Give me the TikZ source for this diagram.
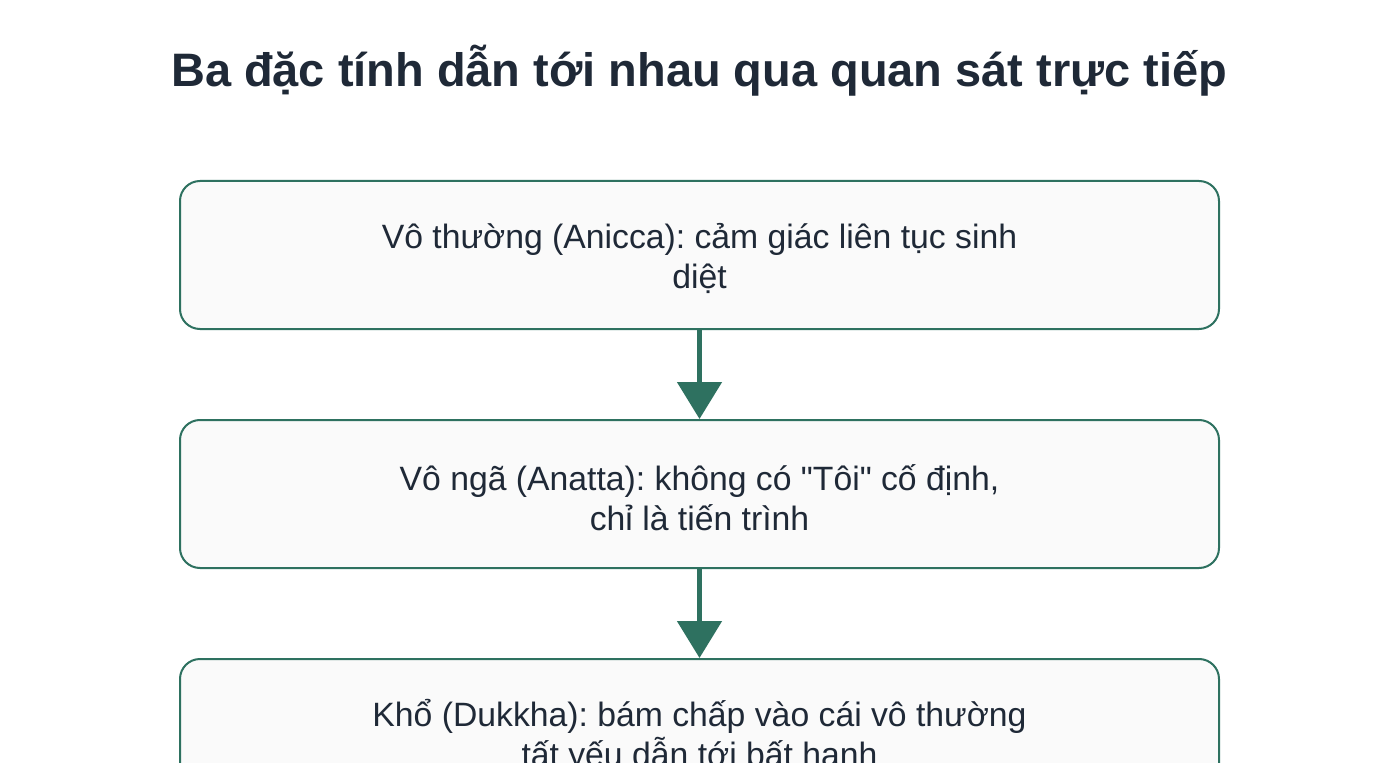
\documentclass[tikz,border=0pt]{standalone}
\usepackage{fontspec}
\setmainfont{Liberation Sans}
\newfontfamily\qfont{Liberation Sans}
\usetikzlibrary{arrows.meta}
\definecolor{txt}{HTML}{1F2937}
\definecolor{stroke}{HTML}{2E7160}
\definecolor{boxfill}{HTML}{FAFAFA}
\newcommand{\sq}{{\qfont"}}
\newcommand{\boxtext}[1]{\raisebox{-9pt}[0pt][0pt]{\parbox{700pt}{\centering #1}}}
\tikzset{
  stepbox/.style={draw=stroke, line width=1.5pt, fill=boxfill, rounded corners=15pt,
    minimum width=779.25pt, minimum height=111pt, align=center, text=txt,
    font=\frenchspacing\fontsize{25.3pt}{30pt}\selectfont, inner sep=0pt},
  flow/.style={draw=stroke, line width=3.75pt, -{Triangle[width=33pt,length=27.75pt]}},
  titletext/.style={text=txt, font=\frenchspacing\fontsize{35.2pt}{40pt}\selectfont\bfseries, anchor=base, inner sep=0pt}
}
\begin{document}
\begin{tikzpicture}[x=0.75pt, y=-0.75pt]
\useasboundingbox (0,0) rectangle (1400,763);
\clip (0,0) rectangle (1400,763);
\fill[white] (0,0) rectangle (1400,763);
\node[titletext] (title) at (699,87) {Ba đặc tính dẫn tới nhau qua quan sát trực tiếp};
\node[stepbox] (b1) at (699.5,255) {\boxtext{Vô thường (Anicca): cảm giác liên tục sinh\\diệt}};
\node[stepbox] (b2) at (699.5,494) {\boxtext{Vô ngã (Anatta): không có \sq Tôi\sq{} cố định,\\chỉ là tiến trình}};
\node[stepbox] (b3) at (699.5,733) {\boxtext{Khổ (Dukkha): bám chấp vào cái vô thường\\tất yếu dẫn tới bất hạnh}};
\draw[flow] (b1.south) -- (b2.north);
\draw[flow] (b2.south) -- (b3.north);
\end{tikzpicture}
\end{document}
